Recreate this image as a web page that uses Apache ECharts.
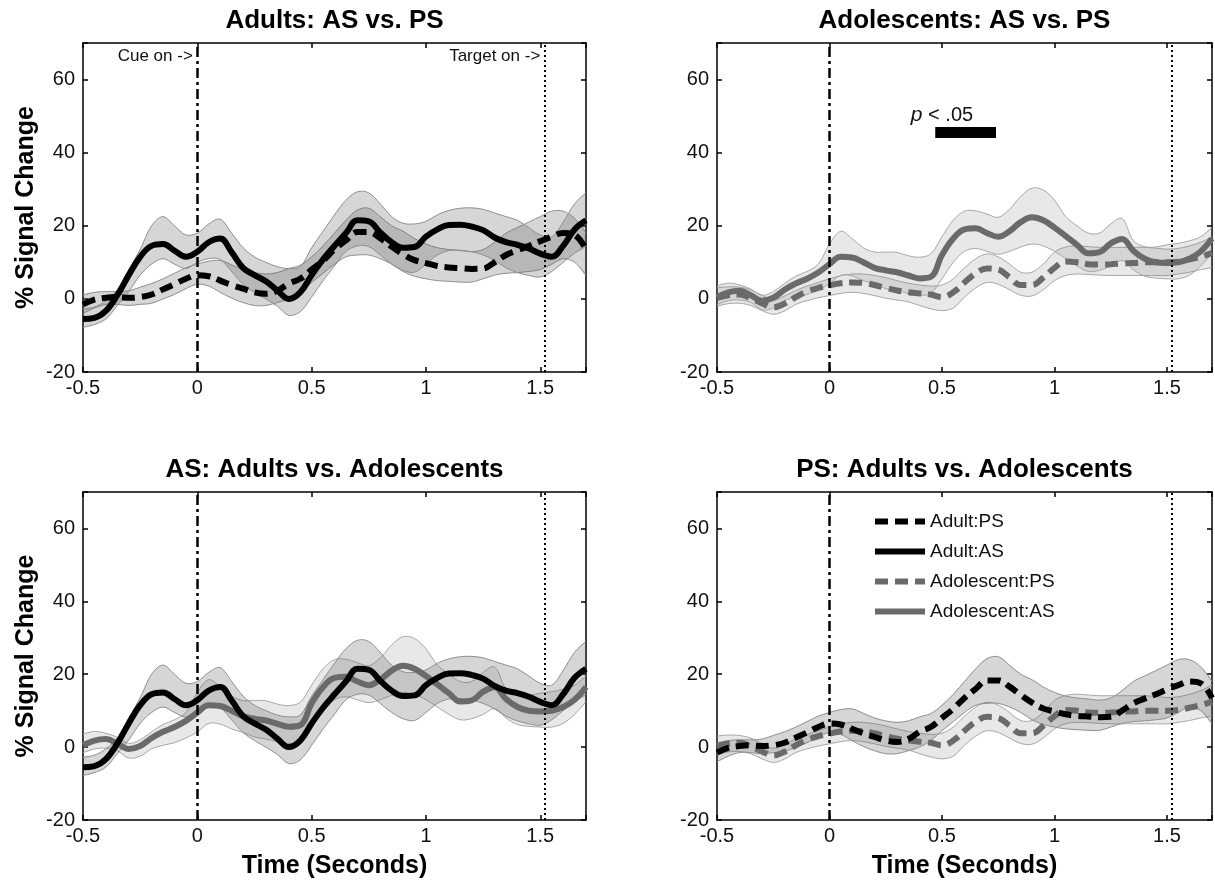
<!DOCTYPE html>
<html>
<head>
<meta charset="utf-8">
<script src="https://cdn.jsdelivr.net/npm/echarts@6/dist/echarts.min.js"></script>
<style>
html,body{margin:0;padding:0;background:#fff;}
#chart{width:1215px;height:886px;}
</style>
</head>
<body>
<div id="chart"></div>
<script>
// ---------- DATA ----------
const time = [-0.5,-0.45,-0.4,-0.35,-0.3,-0.25,-0.2,-0.15,-0.1,-0.05,0,0.05,0.1,0.15,0.2,0.25,0.3,0.35,0.4,0.45,0.5,0.55,0.6,0.65,0.7,0.75,0.8,0.85,0.9,0.95,1,1.05,1.1,1.15,1.2,1.25,1.3,1.35,1.4,1.45,1.5,1.55,1.6,1.65,1.7];

const adultAS   = [-5.5,-5.2,-3.3,1.0,6.5,11.5,14.5,15.0,13.2,11.5,12.9,15.5,16.5,12.8,8.5,6.5,4.8,2.3,0.0,1.8,6.5,10.8,14.5,18.0,21.5,21.2,18.2,15.5,14.0,14.2,17.0,19.0,20.2,20.3,19.8,18.8,16.8,15.5,14.8,13.8,12.4,11.5,14.5,19.0,21.5];
const adultASlo = [-7.8,-7.0,-5.5,-1.8,2.0,6.5,9.5,11.0,9.5,8.3,10.0,11.0,10.8,7.5,4.0,1.8,0.0,-2.0,-4.5,-3.5,0.5,5.0,9.0,13.0,14.5,14.3,12.0,9.5,7.8,7.3,9.5,12.0,13.2,13.3,12.9,12.0,10.5,8.5,7.2,6.4,6.0,7.5,10.0,12.5,14.5];
const adultAShi = [-2.8,-2.2,-0.5,2.5,8.0,13.5,20.0,22.5,20.0,17.5,18.0,20.5,21.8,18.0,14.0,11.5,10.0,8.8,8.3,8.8,14.0,18.5,23.0,27.0,29.3,29.0,26.0,22.5,20.7,20.5,21.2,23.0,24.2,24.8,24.9,24.5,23.5,22.5,21.5,19.5,17.5,17.0,21.0,26.0,29.0];

const adultPS   = [-1.5,-0.2,0.3,0.5,0.3,0.5,1.2,2.6,4.0,5.5,6.5,6.2,5.0,3.8,2.8,1.8,1.4,2.2,4.2,5.5,8.0,10.5,13.5,16.0,18.3,18.3,16.6,14.3,12.2,10.6,9.8,9.0,8.6,8.4,8.2,8.3,10.0,12.0,13.3,14.5,15.8,17.0,18.0,17.5,13.5];
const adultPSlo = [-4.0,-2.5,-1.5,-1.5,-1.8,-1.5,-1.2,0.0,1.2,2.8,4.0,3.5,1.8,0.2,-1.0,-1.8,-1.8,-1.0,0.0,1.8,4.5,7.0,9.5,11.5,12.0,12.0,11.0,9.5,7.5,6.2,5.5,5.0,4.8,4.6,4.6,5.5,6.5,7.0,7.2,7.5,8.0,9.5,11.0,10.0,6.5];
const adultPShi = [1.0,1.8,2.0,2.0,2.2,3.2,4.2,5.5,7.0,8.5,9.5,10.3,10.5,9.3,8.0,7.2,6.8,7.2,8.3,9.2,11.5,14.5,18.0,21.5,24.3,24.8,22.5,20.0,18.5,16.5,15.0,14.0,13.5,13.2,12.9,13.5,15.5,18.0,19.5,21.0,22.5,24.0,24.0,22.0,18.0];

const adolAS    = [0.5,1.8,2.2,1.0,-0.5,0.3,2.5,4.2,5.5,7.2,9.5,11.5,11.3,10.0,8.5,7.8,7.3,6.4,5.6,6.0,12.0,16.5,19.0,19.3,18.0,17.0,18.5,21.0,22.3,21.5,19.5,17.2,14.8,12.5,12.8,15.2,16.4,13.2,11.0,10.0,9.8,10.0,11.0,13.0,16.5];
const adolASlo  = [-1.5,-0.5,-0.3,-1.0,-3.0,-2.5,-0.5,0.5,1.2,2.5,4.1,6.5,6.3,5.0,4.0,2.8,2.2,1.5,1.0,1.5,5.5,10.0,13.0,13.8,13.0,12.2,13.0,14.2,15.0,14.5,13.0,11.0,9.0,7.5,7.8,9.0,10.5,8.0,6.2,5.7,5.5,5.5,6.5,9.0,12.5];
const adolAShi  = [3.5,4.3,3.8,2.7,1.0,2.0,4.2,6.2,7.5,9.5,15.0,18.5,16.5,14.0,12.8,12.8,12.7,11.8,11.4,12.3,17.0,21.5,24.0,24.1,23.2,22.3,24.5,28.0,30.3,29.8,27.0,22.5,20.0,18.0,18.0,20.5,22.0,16.0,14.3,14.2,14.8,15.2,15.9,17.0,19.5];

const adolPS    = [0.3,1.0,1.2,0.2,-1.2,-2.3,-1.3,0.5,2.0,3.0,3.7,4.3,4.5,4.4,3.8,3.0,2.3,1.8,1.5,1.2,0.5,1.8,4.5,7.0,8.3,8.0,5.9,3.8,3.8,5.8,8.5,10.2,10.0,9.5,9.4,9.5,9.7,9.8,10.0,10.0,10.0,10.2,10.8,11.5,12.5];
const adolPSlo  = [-2.0,-1.3,-1.2,-1.8,-3.2,-4.2,-3.3,-1.5,-0.5,0.3,0.9,1.5,1.8,1.5,0.9,0.2,-0.3,-0.8,-1.8,-2.7,-3.2,-2.5,0.5,3.0,4.5,4.0,2.5,1.0,0.8,2.5,5.0,6.4,6.8,6.7,6.5,6.4,6.4,6.4,6.4,6.4,6.4,6.8,7.3,8.0,8.6];
const adolPShi  = [3.0,3.3,3.2,2.5,1.0,-0.3,0.8,2.3,3.5,4.5,5.5,6.3,6.8,6.8,6.4,5.8,5.0,4.3,3.8,3.5,3.8,5.5,8.5,11.0,12.3,11.5,9.5,7.3,7.3,9.5,12.8,14.2,14.5,14.3,14.1,14.1,14.1,14.1,14.1,13.9,13.6,13.8,14.5,15.5,17.0];

const panelTitles = ['Adults: AS vs. PS','Adolescents: AS vs. PS','AS: Adults vs. Adolescents','PS: Adults vs. Adolescents'];
const legendNames = ['Adult:PS','Adult:AS','Adolescent:PS','Adolescent:AS'];
const eventTimes = [0, 1.52];            // cue onset, target onset
const eventText = ['Cue on ->','Target on ->'];
const sigWindow = [0.47, 0.74];          // p < .05 bar (seconds)
const sigLevel = [44, 47];               // bar vertical extent (% signal change)
const xRange = [-0.5, 1.7];
const yRange = [-20, 70];

// ---------- helpers ----------
const pts = arr => time.map((t, i) => [t, arr[i]]);
const bandPts = (lo, hi) => time.map((t, i) => [t, lo[i], hi[i]]);

const FONT = 'Liberation Sans, Arial, sans-serif';
const BLACK = '#000000';
const GREY = '#6a6a6a';
const adultFill = 'rgba(90,90,90,0.25)';
const adolFill = 'rgba(120,120,120,0.17)';
const SMOOTH = 0.4;
const BAND_SMOOTH = 0.35;
const DASH = [13, 7];

const grids = [
  {left: 83, top: 43, width: 503, height: 329},
  {left: 717, top: 43, width: 499, height: 329},
  {left: 83, top: 492, width: 503, height: 328},
  {left: 717, top: 492, width: 499, height: 328}
];

const xAxes = [], yAxes = [];
grids.forEach((g, i) => {
  const bottomPanel = i >= 2, leftPanel = (i % 2 === 0);
  xAxes.push({
    type: 'value', gridIndex: i, position: 'bottom', min: xRange[0], max: xRange[1], interval: 0.5,
    axisLine: {show: true, onZero: false, lineStyle: {color: BLACK, width: 1.5}},
    axisTick: {show: true, inside: true, length: 5, lineStyle: {color: BLACK, width: 1.5}},
    axisLabel: {show: true, fontSize: 20, color: '#111', fontFamily: FONT, margin: 6,
      formatter: v => (Math.abs(v - xRange[1]) < 1e-6 ? '' : String(v))},
    splitLine: {show: false},
    name: bottomPanel ? 'Time (Seconds)' : '', nameLocation: 'middle', nameGap: 34,
    nameTextStyle: {fontSize: 25, fontWeight: 'bold', color: '#000', fontFamily: FONT}
  });
  xAxes.push({
    type: 'value', gridIndex: i, position: 'top', min: xRange[0], max: xRange[1], interval: 0.5,
    axisLine: {show: true, onZero: false, lineStyle: {color: BLACK, width: 1.5}},
    axisTick: {show: true, inside: true, length: 5, lineStyle: {color: BLACK, width: 1.5}},
    axisLabel: {show: false}, splitLine: {show: false},
    name: panelTitles[i], nameLocation: 'middle', nameGap: 9,
    nameTextStyle: {fontSize: 26, fontWeight: 'bold', color: '#000', fontFamily: FONT}
  });
  yAxes.push({
    type: 'value', gridIndex: i, position: 'left', min: yRange[0], max: yRange[1], interval: 20,
    axisLine: {show: true, onZero: false, lineStyle: {color: BLACK, width: 1.5}},
    axisTick: {show: true, inside: true, length: 5, lineStyle: {color: BLACK, width: 1.5}},
    axisLabel: {show: true, fontSize: 20, color: '#111', fontFamily: FONT, margin: 8,
      formatter: v => (v === yRange[1] ? '' : String(v))},
    splitLine: {show: false},
    name: leftPanel ? '% Signal Change' : '', nameLocation: 'middle', nameGap: 44,
    nameTextStyle: {fontSize: 25, fontWeight: 'bold', color: '#000', fontFamily: FONT}
  });
  yAxes.push({
    type: 'value', gridIndex: i, position: 'right', min: yRange[0], max: yRange[1], interval: 20,
    axisLine: {show: true, onZero: false, lineStyle: {color: BLACK, width: 1.5}},
    axisTick: {show: true, inside: true, length: 5, lineStyle: {color: BLACK, width: 1.5}},
    axisLabel: {show: false}, splitLine: {show: false}
  });
});

const series = [];
// confidence band: one polygon built from the series' own data through api.coord
function band(panel, lo, hi, fill, edge, key) {
  const d = bandPts(lo, hi);
  series.push({
    type: 'custom', name: key + ' band', xAxisIndex: 2 * panel, yAxisIndex: 2 * panel,
    data: d, encode: {x: 0, y: [1, 2]}, z: 1, silent: true,
    renderItem: function (params, api) {
      if (params.dataIndex !== 0) return null;
      const up = [], dn = [];
      for (let j = 0; j < d.length; j++) {
        up.push(api.coord([d[j][0], d[j][2]]));
        dn.push(api.coord([d[j][0], d[j][1]]));
      }
      const poly = up.concat(dn.slice().reverse());
      const box = [up[0].slice(), up[0].slice()];   // keeps control points inside the data's own extent
      return {
        type: 'group',
        children: [
          {type: 'polygon', shape: {points: poly, smooth: BAND_SMOOTH, smoothConstraint: box},
           style: {fill: fill, stroke: 'rgba(0,0,0,0)', lineWidth: 0}},
          {type: 'polyline', shape: {points: up, smooth: BAND_SMOOTH},
           style: {stroke: edge, lineWidth: 1, fill: 'rgba(0,0,0,0)'}},
          {type: 'polyline', shape: {points: dn, smooth: BAND_SMOOTH},
           style: {stroke: edge, lineWidth: 1, fill: 'rgba(0,0,0,0)'}}
        ]
      };
    }
  });
}
function mean(panel, name, arr, color, dashed, extra) {
  const s = {
    type: 'line', name: name, xAxisIndex: 2 * panel, yAxisIndex: 2 * panel,
    data: pts(arr), smooth: SMOOTH, symbol: 'none',
    lineStyle: {color: color, width: 6, type: dashed ? DASH : 'solid', cap: 'butt'},
    itemStyle: {color: color}, z: 3
  };
  return Object.assign(s, extra || {});
}
function eventLines() {
  return {
    silent: true, symbol: 'none', label: {show: false}, z: 5,
    data: [
      {xAxis: eventTimes[0], lineStyle: {color: BLACK, width: 2.5, type: [10, 4, 3, 4]}},
      {xAxis: eventTimes[1], lineStyle: {color: BLACK, width: 2, type: [2, 3]}}
    ]
  };
}

// Panel 0: Adults AS vs PS
band(0, adultPSlo, adultPShi, adultFill, '#8f8f8f', 'Adult:PS');
band(0, adultASlo, adultAShi, adultFill, '#8f8f8f', 'Adult:AS');
series.push(mean(0, 'Adult:PS', adultPS, BLACK, true, {markLine: eventLines()}));
series.push(mean(0, 'Adult:AS', adultAS, BLACK, false, {
  markPoint: {
    symbol: 'circle', symbolSize: 1, itemStyle: {color: 'rgba(0,0,0,0)'}, silent: true,
    label: {show: true, position: 'left', distance: 4, color: '#111', fontSize: 17, fontFamily: FONT},
    data: [
      {coord: [eventTimes[0], 66.3], label: {formatter: eventText[0]}},
      {coord: [eventTimes[1], 66.3], label: {formatter: eventText[1]}}
    ]
  }
}));

// Panel 1: Adolescents AS vs PS
band(1, adolPSlo, adolPShi, adolFill, '#a8a8a8', 'Adolescent:PS');
band(1, adolASlo, adolAShi, adolFill, '#a8a8a8', 'Adolescent:AS');
series.push(mean(1, 'Adolescent:PS', adolPS, GREY, true, {markLine: eventLines()}));
series.push(mean(1, 'Adolescent:AS', adolAS, GREY, false, {
  markArea: {
    silent: true, itemStyle: {color: BLACK, opacity: 1},
    data: [[{coord: [sigWindow[0], sigLevel[0]]}, {coord: [sigWindow[1], sigLevel[1]]}]]
  },
  markPoint: {
    symbol: 'circle', symbolSize: 1, itemStyle: {color: 'rgba(0,0,0,0)'}, silent: true,
    label: {show: true, position: 'inside', color: '#111', fontSize: 20, fontFamily: FONT,
      formatter: '{i|p} < .05', rich: {i: {fontStyle: 'italic', fontSize: 21, fontFamily: FONT, color: '#111'}}},
    data: [{coord: [0.5, 50.2]}]
  }
}));

// Panel 2: AS Adults vs Adolescents
band(2, adolASlo, adolAShi, adolFill, '#a8a8a8', 'Adolescent:AS');
band(2, adultASlo, adultAShi, adultFill, '#8f8f8f', 'Adult:AS');
series.push(mean(2, 'Adolescent:AS', adolAS, GREY, false, {markLine: eventLines()}));
series.push(mean(2, 'Adult:AS', adultAS, BLACK, false));

// Panel 3: PS Adults vs Adolescents
band(3, adolPSlo, adolPShi, adolFill, '#a8a8a8', 'Adolescent:PS');
band(3, adultPSlo, adultPShi, adultFill, '#8f8f8f', 'Adult:PS');
series.push(mean(3, 'Adolescent:PS', adolPS, GREY, true, {markLine: eventLines()}));
series.push(mean(3, 'Adult:PS', adultPS, BLACK, true));

const option = {
  backgroundColor: '#ffffff',
  animation: false,
  textStyle: {fontFamily: FONT},
  grid: grids.map(g => Object.assign({containLabel: false, show: false}, g)),
  xAxis: xAxes,
  yAxis: yAxes,
  legend: {
    data: legendNames, orient: 'vertical', left: 872, top: 512, padding: 0,
    itemWidth: 50, itemHeight: 14, itemGap: 11, selectedMode: false,
    itemStyle: {opacity: 0},
    lineStyle: {width: 6, cap: 'butt'},
    textStyle: {fontSize: 19, color: '#111', fontFamily: FONT}
  },
  series: series
};

const chart = echarts.init(document.getElementById('chart'), null, {renderer: 'canvas'});
chart.setOption(option);
</script>
</body>
</html>
